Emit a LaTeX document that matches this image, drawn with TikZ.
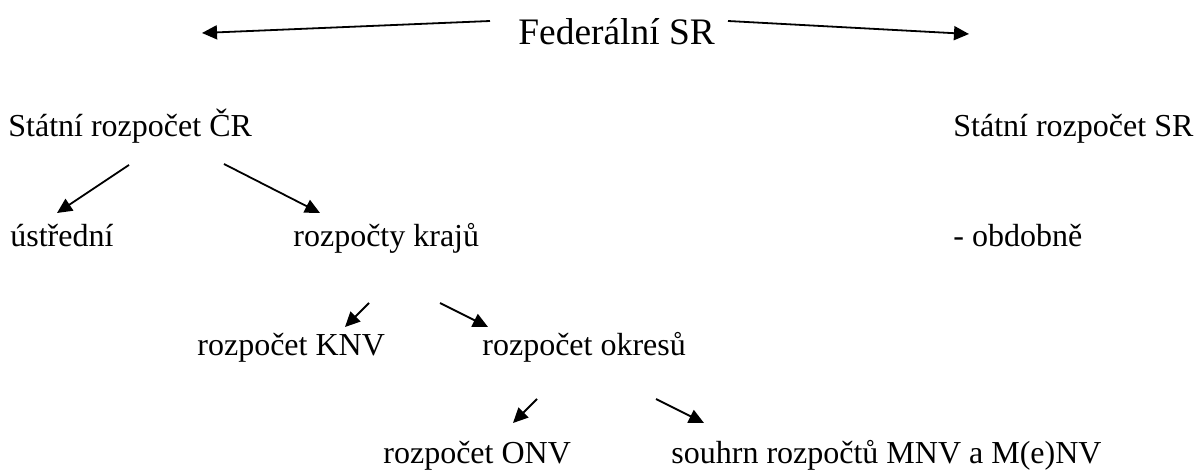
\documentclass[tikz,border=0pt]{standalone}
\usepackage{fontspec}
\setmainfont{Liberation Serif}
\usetikzlibrary{arrows.meta}
\begin{document}
\begin{tikzpicture}[x=0.5pt,y=-0.5pt,
  lbl/.style={anchor=base west,inner sep=0pt,font=\fontsize{16pt}{19pt}\selectfont},
  head/.style={anchor=base west,inner sep=0pt,font=\fontsize{18.7pt}{22pt}\selectfont},
  arr/.style={-{Triangle[length=7.5pt,width=7pt]},line width=0.9pt}]
\useasboundingbox (0,0) rectangle (1196,470);
% labels
\node[head] (fed)  at (518,45)  {Federální SR};
\node[lbl]  (cr)   at (8,137)   {Státní rozpočet ČR};
\node[lbl]  (sr)   at (953,137) {Státní rozpočet SR};
\node[lbl]  (ust)  at (10,247)  {ústřední};
\node[lbl]  (kraj) at (293,247) {rozpočty krajů};
\node[lbl]  (obd)  at (953,247) {- obdobně};
\node[lbl]  (knv)  at (197,356) {rozpočet KNV};
\node[lbl]  (okr)  at (482,356) {rozpočet okresů};
\node[lbl]  (onv)  at (383,464) {rozpočet ONV};
\node[lbl]  (mnv)  at (671,464) {souhrn rozpočtů MNV a M(e)NV};
% arrow end points
\coordinate (fedL) at (490,21);  \coordinate (fedLt) at (202,33);
\coordinate (fedR) at (728,21);  \coordinate (fedRt) at (969,34);
\coordinate (crL)  at (129,165); \coordinate (crLt)  at (57,213);
\coordinate (crR)  at (224,164); \coordinate (crRt)  at (320,213);
\coordinate (krL)  at (369,303); \coordinate (krLt)  at (345,327);
\coordinate (krR)  at (440,303); \coordinate (krRt)  at (488,327);
\coordinate (okL)  at (537,399); \coordinate (okLt)  at (513,423);
\coordinate (okR)  at (656,399); \coordinate (okRt)  at (704,423);
% arrows
\draw[arr] (fedL) -- (fedLt);
\draw[arr] (fedR) -- (fedRt);
\draw[arr] (crL) -- (crLt);
\draw[arr] (crR) -- (crRt);
\draw[arr] (krL) -- (krLt);
\draw[arr] (krR) -- (krRt);
\draw[arr] (okL) -- (okLt);
\draw[arr] (okR) -- (okRt);
\end{tikzpicture}
\end{document}
